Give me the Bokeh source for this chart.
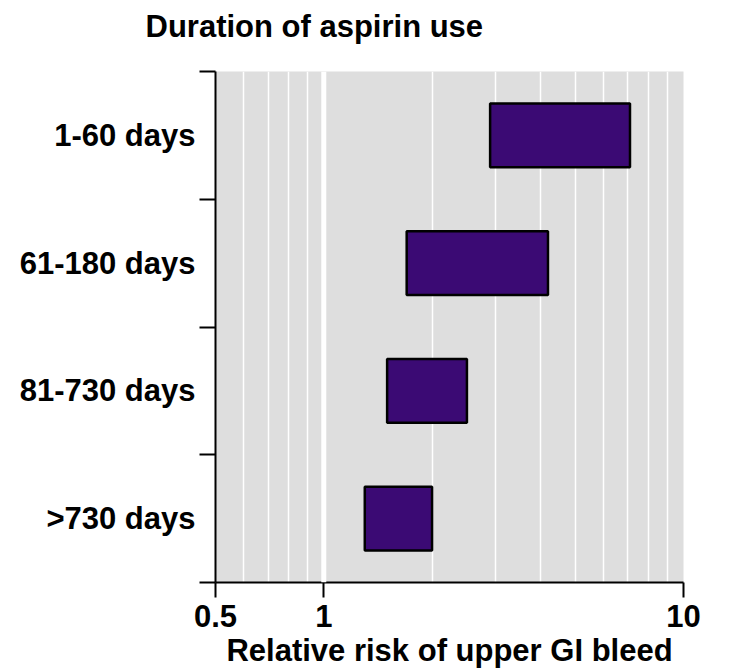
from bokeh.plotting import figure
from bokeh.models import Range1d, FixedTicker, Span, Grid, Title
from bokeh.embed import file_html
from bokeh.resources import INLINE

categories = ["1-60 days", "61-180 days", "81-730 days", ">730 days"]
rr_low = [2.9, 1.7, 1.5, 1.3]
rr_high = [7.1, 4.2, 2.5, 2.0]
x_ticks = [0.5, 1, 10]
x_minor = [0.6, 0.7, 0.8, 0.9, 2, 3, 4, 5, 6, 7, 8, 9]
title_text = "Duration of  aspirin use"

FONT = "Liberation Sans"
BAR_H = 0.5

p = figure(x_axis_type="log", x_range=Range1d(0.5, 10), y_range=Range1d(len(categories), 0),
           frame_width=468, frame_height=511,
           min_border_left=215, min_border_right=38, min_border_top=71, min_border_bottom=80,
           output_backend="svg", toolbar_location=None)
p.background_fill_color = "#dedede"
p.outline_line_color = None
p.xgrid.visible = False
p.ygrid.visible = False

centers = [i + 0.5 for i in range(len(categories))]
p.quad(left=rr_low, right=rr_high,
       top=[c - BAR_H / 2 for c in centers], bottom=[c + BAR_H / 2 for c in centers],
       fill_color="#3b0a74", line_color="black", line_width=2.5)

g = Grid(dimension=0, ticker=FixedTicker(ticks=x_minor), grid_line_color="white", grid_line_width=1.5)
p.add_layout(g)
p.add_layout(Span(location=1, dimension="height", line_color="white", line_width=5))

xa = p.xaxis[0]
xa.ticker = FixedTicker(ticks=x_ticks, minor_ticks=[])
xa.major_label_overrides = {0.5: "0.5", 1: "1", 10: "10"}
xa.axis_line_width = 2
xa.major_tick_line_width = 2
xa.major_tick_out = 15
xa.major_tick_in = 0
xa.major_label_standoff = 7
xa.major_label_text_font = FONT
xa.major_label_text_font_style = "bold"
xa.major_label_text_font_size = "31px"
xa.major_label_text_color = "black"
xa.axis_label = "Relative risk of upper GI bleed"
xa.axis_label_text_font = FONT
xa.axis_label_text_font_style = "bold"
xa.axis_label_text_font_size = "31px"
xa.axis_label_text_color = "black"
xa.axis_label_standoff = 3

ya = p.yaxis[0]
ya.ticker = FixedTicker(ticks=centers, minor_ticks=list(range(len(categories) + 1)))
ya.major_label_overrides = {c: lab for c, lab in zip(centers, categories)}
ya.axis_line_width = 2
ya.major_tick_line_color = None
ya.major_tick_out = 0
ya.major_tick_in = 0
ya.minor_tick_line_width = 2
ya.minor_tick_out = 16
ya.minor_tick_in = 0
ya.major_label_standoff = 4
ya.major_label_text_font = FONT
ya.major_label_text_font_style = "bold"
ya.major_label_text_font_size = "31px"
ya.major_label_text_color = "black"

p.title = Title(text=title_text, align="left", offset=-70,
                text_font=FONT, text_font_style="bold", text_font_size="31px",
                text_color="black", standoff=10)
spacer = Title(text=" ", text_font_size="1px", standoff=20)
p.add_layout(spacer, "above")

open("out.html", "w").write(file_html(p, INLINE))
